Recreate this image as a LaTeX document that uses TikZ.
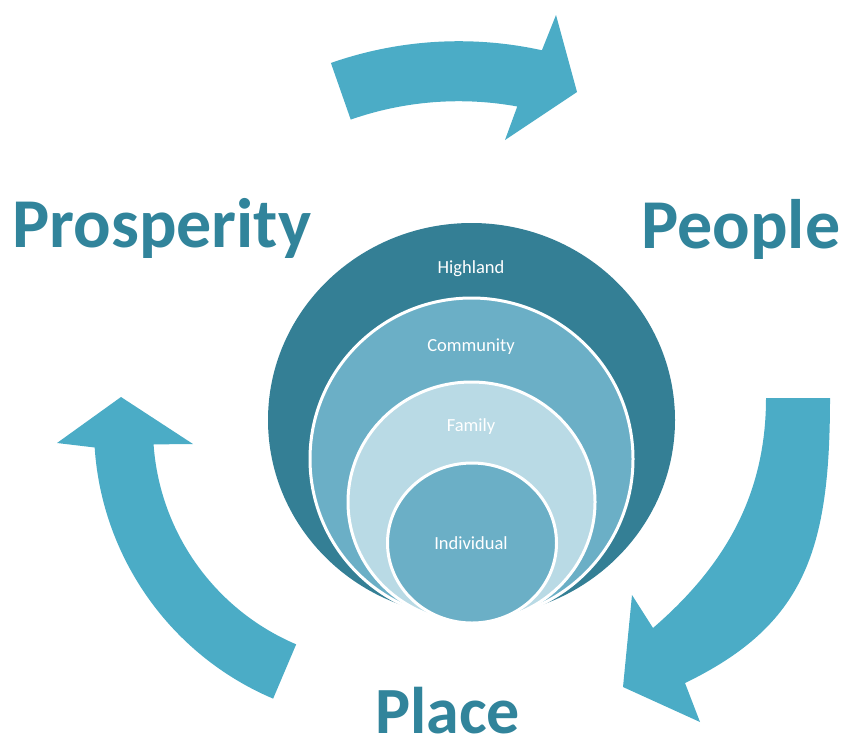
\documentclass[tikz,border=0pt]{standalone}
\usepackage{fontspec}
\setmainfont{Carlito}
\definecolor{arrowc}{HTML}{4BACC6}
\definecolor{labelc}{HTML}{31849B}
\definecolor{outerc}{HTML}{347F95}
\definecolor{commc}{HTML}{6BAFC6}
\definecolor{famc}{HTML}{B9DAE5}
\definecolor{indc}{HTML}{6BAFC6}
\tikzset{
  big/.style={text=labelc,font=\fontsize{70}{74}\selectfont\bfseries,inner sep=0pt,anchor=base west},
  small/.style={text=white,font=\fontsize{18.5}{20}\selectfont,inner sep=0pt},
  ring/.style={draw=white,line width=3pt},
  bigarrow/.style={fill=arrowc}
}
\begin{document}
\begin{tikzpicture}[x=1pt,y=-1pt]
\useasboundingbox (0,0) rectangle (842,745);
% circles
\fill[outerc] (471.5,420) ellipse [x radius=203.5,y radius=197];
\filldraw[ring,fill=commc] (471.5,459) ellipse [x radius=161.5,y radius=161];
\filldraw[ring,fill=famc] (471.5,502) ellipse [x radius=123.5,y radius=120];
\filldraw[ring,fill=indc] (472,543) ellipse [x radius=84.5,y radius=80];
% arc centres
\coordinate (cT) at (458.8,428.2);
\coordinate (cL) at (388,428);
% top arrow
\fill[bigarrow] ([shift={(-109.3:387)}]cT) arc[start angle=-109.3,end angle=-77.6,radius=387]
  -- (556,15) -- (577,92) -- (505,140)
  -- ([shift={(-79.7:327)}]cT) arc[start angle=-79.7,end angle=-109.3,radius=327] -- cycle;
% right arrow
\fill[bigarrow] (830,398) .. controls (830,550) and (805,625) .. (685,683)
  -- (700,722) -- (623,687) -- (632,595) -- (653,628)
  .. controls (720,570) and (766,500) .. (766,398) -- cycle;
% left arrow
\fill[bigarrow] ([shift={(113:294)}]cL) arc[start angle=113,end angle=176.2,radius=294]
  -- (57,443) -- (121,397) -- (193,444)
  -- ([shift={(176:235)}]cL) arc[start angle=176,end angle=113,radius=235] -- cycle;
% labels
\node[big] (prosperity) at (12,247) {Prosperity};
\node[big] (people) at (641,248) {People};
\node[big,font=\fontsize{66}{70}\selectfont\bfseries,text depth=0pt] (place) at (375,733) {Place};
\node[small] (highland) at (471,269) {Highland};
\node[small] (community) at (471,347) {Community};
\node[small] (family) at (471,427) {Family};
\node[small] (individual) at (471,543) {Individual};
\end{tikzpicture}
\end{document}
